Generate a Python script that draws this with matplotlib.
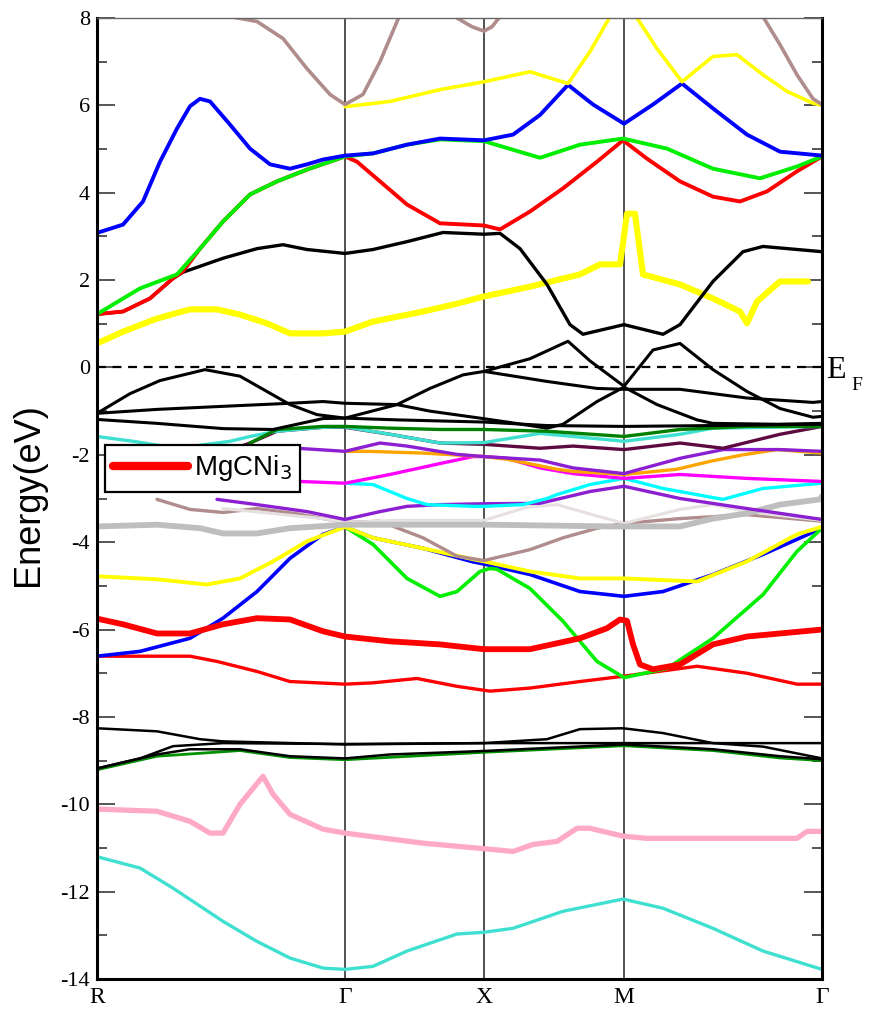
import matplotlib
matplotlib.use("Agg")
import matplotlib.pyplot as plt

# ---- high-symmetry points (path coordinate) ----
kpt_pos = [0.0, 2.48, 3.87, 5.27, 7.25]
kpt_labels = ["R", "\u0393", "X", "M", "\u0393"]
y_ticks = [8, 6, 4, 2, 0, -2, -4, -6, -8, -10, -12, -14]
y_tick_labels = ["8", "6", "4", "2", "0", "-2", "-4", "-6", "-8", "-10", "-12", "-14"]
legend_label = "MgCNi$_3$"

# ---- bands (k, E in eV) ----
brown_up1_k = [1.36, 1.60, 1.86, 2.10, 2.33, 2.48, 2.66, 2.83, 3.03]
brown_up1_e = [8.02, 7.92, 7.53, 6.84, 6.25, 6.02, 6.25, 7.00, 8.08]
brown_up2_k = [3.60, 3.75, 3.87, 3.95, 4.03]
brown_up2_e = [8.00, 7.80, 7.70, 7.80, 8.03]
brown_up3_k = [6.66, 6.83, 7.00, 7.16, 7.25]
brown_up3_e = [8.03, 7.39, 6.70, 6.15, 6.02]

yellow_up_k = [2.48, 2.93, 3.43, 3.87, 4.33, 4.71, 4.93, 5.13, 5.27, 5.40, 5.60, 5.85, 6.16, 6.40, 6.66, 6.90, 7.16, 7.25]
yellow_up_e = [5.97, 6.09, 6.36, 6.54, 6.77, 6.50, 7.23, 8.03, 8.80, 8.00, 7.30, 6.54, 7.12, 7.16, 6.70, 6.32, 6.05, 6.00]

blue_up_k = [0.0, 0.26, 0.46, 0.63, 0.80, 0.93, 1.03, 1.13, 1.33, 1.53, 1.73, 1.93, 2.10, 2.26, 2.48, 2.76, 3.10,
             3.43, 3.87, 4.16, 4.43, 4.71, 4.96, 5.27, 5.56, 5.85, 6.16, 6.50, 6.83, 7.25]
blue_up_e = [3.08, 3.27, 3.80, 4.71, 5.47, 5.98, 6.15, 6.09, 5.56, 5.01, 4.65, 4.55, 4.65, 4.76, 4.85, 4.90, 5.10,
             5.24, 5.20, 5.33, 5.78, 6.47, 6.02, 5.58, 6.02, 6.50, 5.93, 5.33, 4.94, 4.85]

green_up_k = [0.0, 0.43, 0.80, 1.03, 1.26, 1.53, 1.80, 2.10, 2.48, 2.76, 3.10, 3.43, 3.87, 4.43, 4.83, 5.26, 5.70, 6.16, 6.63, 7.00, 7.25]
green_up_e = [1.22, 1.81, 2.13, 2.72, 3.34, 3.96, 4.26, 4.53, 4.83, 4.90, 5.10, 5.22, 5.18, 4.80, 5.10, 5.24, 5.01, 4.55, 4.33, 4.60, 4.83]

red_up_k = [0.0, 0.26, 0.53, 0.76, 0.86, 1.03, 1.26, 1.53, 1.80, 2.10, 2.48, 2.60, 2.83, 3.10, 3.43, 3.87, 4.03, 4.33,
            4.66, 5.00, 5.26, 5.50, 5.83, 6.16, 6.43, 6.70, 7.00, 7.25]
red_up_e = [1.22, 1.28, 1.58, 2.04, 2.20, 2.72, 3.34, 3.96, 4.26, 4.53, 4.83, 4.71, 4.26, 3.73, 3.30, 3.25, 3.16, 3.57,
            4.10, 4.71, 5.20, 4.78, 4.26, 3.91, 3.80, 4.03, 4.49, 4.83]

black_up_k = [0.0, 0.26, 0.53, 0.76, 0.86, 1.26, 1.60, 1.86, 2.10, 2.48, 2.76, 3.10, 3.46, 3.87, 4.03, 4.23, 4.50,
              4.73, 4.86, 5.27, 5.66, 5.83, 6.16, 6.46, 6.66, 7.25]
black_up_e = [1.22, 1.28, 1.58, 2.04, 2.18, 2.50, 2.72, 2.81, 2.70, 2.61, 2.70, 2.88, 3.09, 3.05, 3.07, 2.72, 1.90,
              0.98, 0.76, 0.98, 0.76, 0.98, 1.97, 2.65, 2.77, 2.65]

yellow_mid_k = [0.0, 0.26, 0.60, 0.93, 1.20, 1.43, 1.70, 1.93, 2.26, 2.48, 2.76, 3.26, 3.60, 3.86, 4.33, 4.83, 5.03,
                5.23, 5.28, 5.30, 5.38, 5.46, 5.83, 6.16, 6.43, 6.50, 6.60, 6.83, 7.11]
yellow_mid_e = [0.55, 0.82, 1.12, 1.33, 1.33, 1.21, 1.01, 0.78, 0.78, 0.82, 1.05, 1.28, 1.46, 1.62, 1.85, 2.13, 2.36,
                2.36, 3.18, 3.52, 3.52, 2.13, 1.90, 1.58, 1.28, 1.01, 1.51, 1.97, 1.97]

# bands around the Fermi level
k1_k = [0.0, 0.33, 0.63, 1.08, 1.43, 1.93, 2.20, 2.48, 3.00, 3.33, 3.66, 3.87, 4.33, 4.71, 4.93, 5.27, 5.56, 5.83,
        6.16, 6.50, 6.83, 7.16, 7.25]
k1_e = [-1.05, -0.60, -0.30, -0.05, -0.20, -0.85, -1.08, -1.16, -0.85, -0.48, -0.17, -0.09, 0.20, 0.60, 0.15, -0.43,
        0.40, 0.55, -0.05, -0.55, -0.94, -1.14, -1.12]
k2_k = [0.0, 0.60, 1.26, 1.93, 2.26, 2.48, 3.00, 3.33, 3.83, 4.16, 4.50, 4.66, 5.00, 5.27, 5.60, 6.00, 6.16, 6.80, 7.25]
k2_e = [-1.05, -0.96, -0.89, -0.82, -0.78, -0.82, -0.85, -1.00, -1.16, -1.27, -1.39, -1.30, -0.78, -0.45, -0.85,
        -1.20, -1.28, -1.30, -1.28]
k3_k = [0.0, 0.60, 1.26, 1.76, 2.26, 2.48, 3.00, 3.87, 4.50, 5.27, 6.16, 7.25]
k3_e = [-1.19, -1.28, -1.40, -1.42, -1.17, -1.16, -1.20, -1.25, -1.33, -1.35, -1.33, -1.30]
k4_k = [3.87, 4.50, 5.00, 5.27, 5.83, 6.50, 7.16, 7.25]
k4_e = [-0.09, -0.32, -0.48, -0.50, -0.50, -0.70, -0.80, -0.78]

dkgreen_mid_k = [1.53, 1.80, 2.26, 2.48, 2.93, 3.43, 3.87, 4.50, 5.27, 5.83, 6.50, 7.25]
dkgreen_mid_e = [-1.73, -1.42, -1.35, -1.35, -1.39, -1.42, -1.42, -1.46, -1.58, -1.42, -1.35, -1.35]
maroon_k = [1.20, 1.53, 1.80, 2.26, 2.48, 2.93, 3.43, 3.87, 4.43, 4.76, 5.27, 5.83, 6.26, 6.83, 7.25]
maroon_e = [-2.00, -1.73, -1.46, -1.37, -1.37, -1.53, -1.73, -1.76, -1.85, -1.80, -1.88, -1.73, -1.85, -1.53, -1.35]
cyan1_k = [0.0, 0.36, 0.80, 1.33, 1.53, 1.80, 2.26, 2.48, 2.93, 3.43, 3.87, 4.43, 4.76, 5.27, 5.83, 6.16, 7.25]
cyan1_e = [-1.58, -1.69, -1.85, -1.69, -1.58, -1.46, -1.37, -1.36, -1.53, -1.73, -1.72, -1.51, -1.58, -1.69, -1.53,
           -1.39, -1.35]
purple1_k = [0.15, 1.00, 2.00, 2.48, 2.83, 3.10, 3.60, 3.87, 4.43, 4.76, 5.27, 5.83, 6.26, 6.83, 7.25]
purple1_e = [-2.20, -1.95, -1.85, -1.92, -1.73, -1.80, -1.99, -2.04, -2.12, -2.30, -2.43, -2.08, -1.88, -1.88, -1.92]
orange_k = [2.48, 2.70, 3.26, 3.87, 4.10, 4.60, 4.76, 5.27, 5.80, 6.13, 6.46, 6.80, 7.25]
orange_e = [-1.92, -1.92, -1.96, -2.04, -2.10, -2.33, -2.38, -2.45, -2.33, -2.15, -2.00, -1.88, -1.96]
magenta_k = [0.15, 2.03, 2.48, 2.93, 3.43, 3.76, 3.87, 4.10, 4.43, 4.76, 5.27, 5.83, 6.50, 7.25]
magenta_e = [-2.60, -2.61, -2.65, -2.45, -2.20, -2.04, -2.04, -2.08, -2.30, -2.43, -2.54, -2.45, -2.54, -2.61]
cyan2_k = [2.48, 2.76, 3.10, 3.30, 3.76, 3.87, 4.26, 4.50, 4.60, 4.93, 5.27, 5.66, 6.26, 6.66, 7.25]
cyan2_e = [-2.65, -2.68, -3.00, -3.14, -3.18, -3.18, -3.14, -3.00, -2.91, -2.68, -2.54, -2.77, -3.02, -2.77, -2.65]
purple2_k = [1.20, 1.60, 2.10, 2.48, 2.83, 3.10, 3.43, 3.87, 4.43, 4.93, 5.27, 5.83, 6.50, 7.25]
purple2_e = [-3.02, -3.14, -3.30, -3.48, -3.30, -3.18, -3.14, -3.12, -3.11, -2.84, -2.72, -3.00, -3.23, -3.48]
brown_mid_k = [0.60, 0.93, 1.26, 1.60, 2.00, 2.48, 2.83, 3.26, 3.60, 3.87, 4.33, 4.66, 5.00, 5.27, 5.83, 6.50, 7.25]
brown_mid_e = [-3.02, -3.25, -3.32, -3.23, -3.35, -3.55, -3.52, -3.90, -4.32, -4.42, -4.17, -3.90, -3.68, -3.57,
               -3.46, -3.37, -3.52]
light_k = [1.26, 2.26, 2.48, 3.00, 3.50, 3.87, 4.30, 4.60, 5.00, 5.27, 5.83, 6.16, 6.50, 7.25]
light_e = [-3.23, -3.46, -3.55, -3.50, -3.50, -3.50, -3.20, -3.14, -3.40, -3.57, -3.25, -3.14, -3.30, -3.50]
gray_k = [0.0, 0.60, 1.03, 1.26, 1.60, 1.93, 2.48, 3.26, 3.93, 5.16, 5.83, 6.16, 6.50, 6.83, 7.23, 7.25]
gray_e = [-3.64, -3.60, -3.68, -3.80, -3.80, -3.68, -3.60, -3.60, -3.60, -3.64, -3.64, -3.46, -3.34, -3.14, -3.02, -2.95]

yellow_low_k = [0.0, 0.60, 1.10, 1.43, 1.76, 2.10, 2.48, 2.76, 3.26, 3.76, 3.87, 4.33, 4.83, 5.27, 6.00, 6.50, 7.00, 7.25]
yellow_low_e = [-4.78, -4.85, -4.97, -4.83, -4.44, -3.98, -3.65, -3.90, -4.14, -4.39, -4.44, -4.67, -4.83, -4.83,
                -4.90, -4.44, -3.82, -3.65]
blue_low_k = [0.0, 0.43, 0.93, 1.26, 1.60, 1.93, 2.26, 2.48, 2.76, 3.26, 3.76, 3.87, 4.33, 4.83, 5.27, 5.66, 6.16, 6.66, 7.25]
blue_low_e = [-6.61, -6.50, -6.20, -5.74, -5.13, -4.37, -3.82, -3.65, -3.90, -4.14, -4.45, -4.50, -4.74, -5.13,
              -5.24, -5.13, -4.74, -4.28, -3.68]
green_low_k = [2.48, 2.76, 3.10, 3.43, 3.60, 3.83, 3.93, 4.00, 4.33, 4.66, 5.00, 5.27, 5.70, 6.16, 6.66, 7.00, 7.25]
green_low_e = [-3.65, -4.05, -4.83, -5.24, -5.13, -4.67, -4.60, -4.62, -5.06, -5.81, -6.73, -7.10, -6.89, -6.20,
               -5.20, -4.21, -3.68]
red_thick_k = [0.0, 0.26, 0.60, 0.93, 1.26, 1.60, 1.93, 2.26, 2.48, 2.93, 3.43, 3.87, 4.33, 4.83, 5.10, 5.23, 5.30,
               5.36, 5.43, 5.56, 5.83, 6.16, 6.50, 7.25]
red_thick_e = [-5.75, -5.88, -6.09, -6.09, -5.88, -5.74, -5.77, -6.04, -6.16, -6.27, -6.34, -6.45, -6.45, -6.20,
               -5.97, -5.77, -5.80, -6.34, -6.80, -6.91, -6.80, -6.34, -6.16, -6.00]
red_thin_k = [0.0, 0.93, 1.20, 1.60, 1.93, 2.48, 2.76, 3.20, 3.60, 3.93, 4.33, 4.83, 5.26, 6.00, 6.50, 7.00, 7.25]
red_thin_e = [-6.61, -6.61, -6.73, -6.96, -7.19, -7.25, -7.22, -7.12, -7.30, -7.41, -7.34, -7.19, -7.07, -6.84,
              -7.00, -7.25, -7.25]

l1_k = [0.0, 0.60, 1.03, 1.26, 2.48, 3.87, 4.50, 4.83, 5.26, 5.66, 6.16, 6.66, 7.25]
l1_e = [-8.26, -8.33, -8.51, -8.56, -8.63, -8.60, -8.51, -8.28, -8.26, -8.37, -8.60, -8.68, -8.95]
l2_k = [0.0, 0.43, 0.76, 1.26, 2.48, 3.87, 5.27, 7.25]
l2_e = [-9.18, -8.95, -8.67, -8.60, -8.62, -8.60, -8.60, -8.60]
l3_k = [0.0, 0.60, 0.93, 1.43, 1.93, 2.48, 2.93, 3.87, 5.27, 6.16, 6.83, 7.25]
l3_e = [-9.18, -8.86, -8.74, -8.74, -8.90, -8.95, -8.86, -8.78, -8.63, -8.74, -8.90, -8.97]
dkgreen_low_k = [0.0, 0.60, 1.43, 1.93, 2.48, 3.87, 5.27, 6.16, 6.83, 7.25]
dkgreen_low_e = [-9.21, -8.90, -8.77, -8.93, -8.98, -8.81, -8.66, -8.77, -8.94, -9.00]

pink_k = [0.0, 0.60, 0.93, 1.13, 1.26, 1.43, 1.66, 1.76, 1.93, 2.26, 2.48, 3.26, 3.93, 4.16, 4.36, 4.60, 4.80, 4.93,
          5.26, 5.50, 7.00, 7.10, 7.25]
pink_e = [-10.11, -10.16, -10.39, -10.66, -10.66, -10.00, -9.36, -9.77, -10.23, -10.57, -10.66, -10.89, -11.03,
          -11.08, -10.92, -10.85, -10.55, -10.55, -10.73, -10.78, -10.78, -10.62, -10.62]
turq_k = [0.0, 0.43, 0.76, 1.26, 1.60, 1.93, 2.26, 2.48, 2.76, 3.10, 3.60, 3.87, 4.16, 4.66, 5.26, 5.66, 6.16, 6.66, 7.25]
turq_e = [-11.20, -11.46, -11.92, -12.68, -13.14, -13.52, -13.75, -13.78, -13.71, -13.36, -12.97, -12.93, -12.84,
          -12.45, -12.17, -12.38, -12.84, -13.36, -13.78]

# ---- figure ----
fig = plt.figure(figsize=(8.69, 10.14), dpi=100)
ax = fig.add_axes([97 / 869, 1 - 979 / 1014, 725 / 869, 961 / 1014])

def band(k, e, color, lw, z=2, **kw):
    return ax.plot(k, e, color=color, lw=lw, solid_joinstyle="round", solid_capstyle="round", zorder=z, **kw)[0]

# low bands
band(turq_k, turq_e, "#40e0d0", 2.4)
band(pink_k, pink_e, "#ffaac4", 3.8)
band(dkgreen_low_k, dkgreen_low_e, "#009000", 2.0)
band(l3_k, l3_e, "black", 1.8)
band(l2_k, l2_e, "black", 1.8)
band(l1_k, l1_e, "black", 1.8)
band(red_thin_k, red_thin_e, "#ff0000", 2.4)
band(blue_low_k, blue_low_e, "#0000ff", 2.6)
band(green_low_k, green_low_e, "#00ee00", 2.6)
red_thick = band(red_thick_k, red_thick_e, "#ff0000", 4.2, label=legend_label)
band(yellow_low_k, yellow_low_e, "#ffff00", 2.8)

# middle bands
band(brown_mid_k, brown_mid_e, "#b08c8c", 2.4)
band(light_k, light_e, "#e6e0e0", 2.2)
band(gray_k, gray_e, "#bebebe", 4.2)
band(purple2_k, purple2_e, "#8b1fd1", 2.4)
band(cyan2_k, cyan2_e, "#00ffff", 2.4)
band(magenta_k, magenta_e, "#ff00ff", 2.4)
band(orange_k, orange_e, "#ffa500", 2.4)
band(purple1_k, purple1_e, "#8b1fd1", 2.4)
band(maroon_k, maroon_e, "#5e0a40", 2.4)
band(cyan1_k, cyan1_e, "#40e0d0", 2.4)
band(dkgreen_mid_k, dkgreen_mid_e, "#008000", 2.4)

# bands near EF
band(k3_k, k3_e, "black", 2.2)
band(k2_k, k2_e, "black", 2.2)
band(k4_k, k4_e, "black", 2.2)
band(k1_k, k1_e, "black", 2.2)

# upper bands
band(yellow_mid_k, yellow_mid_e, "#ffff00", 4.4)
band(black_up_k, black_up_e, "black", 2.4)
band(red_up_k, red_up_e, "#ff0000", 2.8)
band(green_up_k, green_up_e, "#00ee00", 2.8)
band(blue_up_k, blue_up_e, "#0000ff", 2.8)
band(yellow_up_k, yellow_up_e, "#ffff00", 2.6)
band(brown_up1_k, brown_up1_e, "#b08c8c", 2.6)
band(brown_up2_k, brown_up2_e, "#b08c8c", 2.6)
band(brown_up3_k, brown_up3_e, "#b08c8c", 2.6)

# Fermi level and high-symmetry lines
ax.axhline(0, color="black", lw=1.6, ls=(0, (4, 3)), zorder=5)
for kp in kpt_pos[1:-1]:
    ax.axvline(kp, color="#222222", lw=1.1, zorder=1)

ax.set_xlim(kpt_pos[0], kpt_pos[-1])
ax.set_ylim(-14, 8)

ax.set_xticks(kpt_pos)
ax.set_xticklabels(kpt_labels, family="Liberation Serif", fontsize=17)
ax.set_yticks(y_ticks)
ax.set_yticklabels(y_tick_labels, family="Liberation Serif", fontsize=16)
ax.set_yticks([v for v in range(-13, 8, 2)], minor=True)
ax.tick_params(axis="y", which="major", direction="in", length=13, width=1.4, color="#555555",
               right=True, pad=5)
ax.tick_params(axis="y", which="minor", direction="in", length=7, width=1.4, color="#555555", right=True)
ax.tick_params(axis="x", which="both", length=0, pad=6)

for s in ["left", "bottom", "right"]:
    ax.spines[s].set_linewidth(2.2)
ax.spines["top"].set_linewidth(1.0)
ax.spines["top"].set_color("#666666")

ax.set_ylabel("Energy(eV)", family="Liberation Sans", fontsize=26)
ax.yaxis.set_label_coords(-0.07, 0.504)

fig.text(826 / 869, 1 - 378 / 1014, "E", family="Liberation Serif", fontsize=23, ha="left", va="baseline")
fig.text(851 / 869, 1 - 390 / 1014, "F", family="Liberation Serif", fontsize=14, ha="left", va="baseline")

leg = ax.legend(handles=[red_thick], loc="upper left", bbox_to_anchor=(0.011, 0.5557), borderaxespad=0,
                frameon=True, fancybox=False, framealpha=1, edgecolor="black", handlelength=2.7,
                prop={"family": "Liberation Sans", "size": 20}, borderpad=0.3, handletextpad=0.2)
leg.get_frame().set_linewidth(1.6)
leg.legend_handles[0].set_linewidth(6)
leg.set_zorder(20)

fig.savefig("out.png", dpi=100)
